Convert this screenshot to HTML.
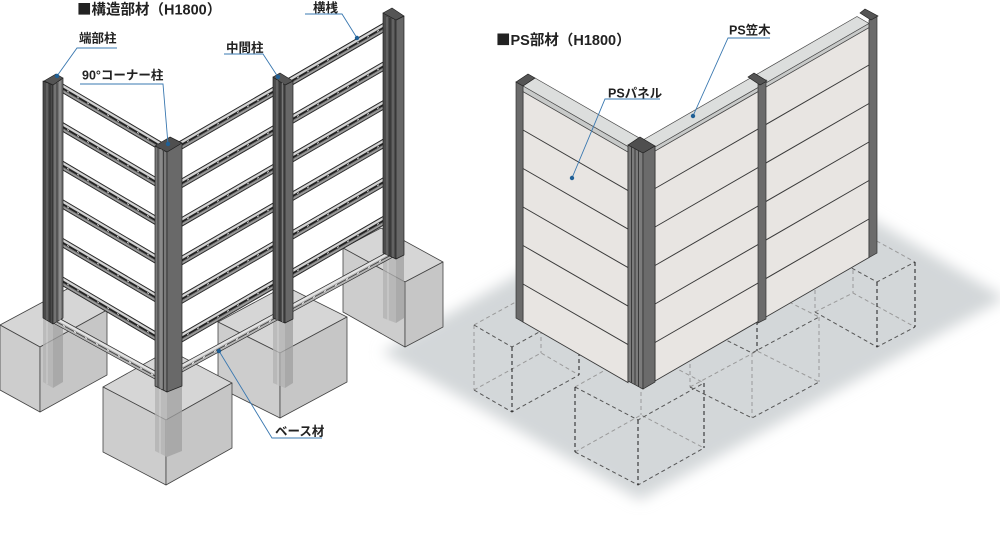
<!DOCTYPE html>
<html><head><meta charset="utf-8">
<style>
html,body{margin:0;padding:0;background:#fff;}
svg{display:block;}
text{font-family:"Liberation Sans","Noto Sans CJK JP",sans-serif;font-weight:bold;fill:#222;}
.sq{font-family:"Noto Sans CJK JP",sans-serif;}
</style></head><body>
<svg width="1000" height="547" viewBox="0 0 1000 547" xmlns="http://www.w3.org/2000/svg">
<defs>
<filter id="blur" x="-20%" y="-20%" width="140%" height="140%"><feGaussianBlur stdDeviation="7"/></filter>
<g id="rL">
 <rect x="0" y="0" width="110" height="9" fill="#7e7e7e" stroke="#1e1e1e" stroke-width="0.9"/>
 <rect x="0" y="0.9" width="110" height="2.3" fill="#d6d6d6"/>
 <line x1="0" y1="4.6" x2="110" y2="4.6" stroke="#222" stroke-width="2"/>
 <line x1="2" y1="4.6" x2="110" y2="4.6" stroke="#d8d8d8" stroke-width="0.9" stroke-dasharray="2 8"/>
 <line x1="0" y1="7.3" x2="110" y2="7.3" stroke="#b0b0b0" stroke-width="0.8"/>
</g>
<g id="rR">
 <rect x="0" y="0" width="215" height="9" fill="#7e7e7e" stroke="#1e1e1e" stroke-width="0.9"/>
 <rect x="0" y="0.9" width="215" height="2.3" fill="#d6d6d6"/>
 <line x1="0" y1="4.6" x2="215" y2="4.6" stroke="#222" stroke-width="2"/>
 <line x1="2" y1="4.6" x2="215" y2="4.6" stroke="#d8d8d8" stroke-width="0.9" stroke-dasharray="2 8"/>
 <line x1="0" y1="7.3" x2="215" y2="7.3" stroke="#b0b0b0" stroke-width="0.8"/>
</g>
</defs>
<rect width="1000" height="547" fill="#fff"/>

<!-- shadow right -->
<polygon points="382,352 600,228 865,215 1005,298 640,500" fill="#d3d7d9" filter="url(#blur)"/>

<!-- ============ LEFT STRUCTURE ============ -->
<g stroke="#444" stroke-width="0.8" stroke-linejoin="round">
 <polygon points="343,248 381,228 443,262 405,282" fill="#d6d6d6"/>
 <polygon points="343,248 405,282 405,347 343,312" fill="#cdcdcd"/>
 <polygon points="405,282 443,262 443,327 405,347" fill="#c6c6c6"/>
 <polygon points="218,322 285,286 347,317 280,353" fill="#d6d6d6"/>
 <polygon points="218,322 280,353 280,418 218,387" fill="#cdcdcd"/>
 <polygon points="280,353 347,317 347,382 280,418" fill="#c6c6c6"/>
 <polygon points="0,325 69,288 107,310 40,347" fill="#d6d6d6"/>
 <polygon points="0,325 40,347 40,412 0,390" fill="#cdcdcd"/>
 <polygon points="40,347 107,310 107,375 40,412" fill="#c6c6c6"/>
 <polygon points="103,387 169,350 232,383 166,420" fill="#d6d6d6"/>
 <polygon points="103,387 166,420 166,485 103,452" fill="#cdcdcd"/>
 <polygon points="166,420 232,383 232,448 166,485" fill="#c6c6c6"/>
</g>

<!-- embedded posts -->
<g opacity="0.75">
 <polygon points="383,253 396,259 396,323 383,318" fill="#b2b2b2"/>
 <polygon points="396,259 404,255 404,318 396,323" fill="#a0a0a0"/>
 <line x1="388" y1="256" x2="388" y2="320" stroke="#c8c8c8" stroke-width="1.5"/>
 <polygon points="273,318 285,323 285,388 273,383" fill="#b2b2b2"/>
 <polygon points="285,323 293,319 293,383 285,388" fill="#a0a0a0"/>
 <line x1="278" y1="320" x2="278" y2="385" stroke="#c8c8c8" stroke-width="1.5"/>
 <polygon points="43,318 53,324 53,388 43,382" fill="#b2b2b2"/>
 <polygon points="53,324 63,318 63,382 53,388" fill="#a0a0a0"/>
 <line x1="47" y1="320" x2="47" y2="384" stroke="#c8c8c8" stroke-width="1.5"/>
 <polygon points="155,386 167,392 167,457 155,451" fill="#b2b2b2"/>
 <polygon points="167,392 182,386 182,451 167,457" fill="#a0a0a0"/>
 <line x1="160" y1="389" x2="160" y2="454" stroke="#c8c8c8" stroke-width="1.5"/>
</g>

<!-- base rails -->
<g transform="matrix(1,0.55,0,1,0,-30.25)">
 <rect x="50" y="316" width="112" height="8" fill="#b5b5b5" stroke="#2a2a2a" stroke-width="0.8"/>
 <rect x="50" y="316.8" width="112" height="2.4" fill="#e4e4e4"/>
 <line x1="50" y1="321" x2="162" y2="321" stroke="#444" stroke-width="1.1"/>
 <line x1="52" y1="321" x2="162" y2="321" stroke="#fff" stroke-width="0.8" stroke-dasharray="2 9"/>
</g>
<g transform="matrix(1,-0.545,0,1,0,99.19)">
 <rect x="168" y="364" width="228" height="8" fill="#b5b5b5" stroke="#2a2a2a" stroke-width="0.8"/>
 <rect x="168" y="364.8" width="228" height="2.4" fill="#e4e4e4"/>
 <line x1="168" y1="369" x2="396" y2="369" stroke="#444" stroke-width="1.1"/>
 <line x1="170" y1="369" x2="396" y2="369" stroke="#fff" stroke-width="0.8" stroke-dasharray="2 9"/>
</g>

<!-- rails left wall -->
<g transform="matrix(1,0.59,0,1,0,-37.17)">
 <use href="#rL" x="55" y="84"/>
 <use href="#rL" x="55" y="122.6"/>
 <use href="#rL" x="55" y="161.2"/>
 <use href="#rL" x="55" y="199.8"/>
 <use href="#rL" x="55" y="238.4"/>
 <use href="#rL" x="55" y="277"/>
</g>
<!-- rails right wall -->
<g transform="matrix(1,-0.58,0,1,0,105.56)">
 <use href="#rR" x="175" y="140"/>
 <use href="#rR" x="175" y="178.6"/>
 <use href="#rR" x="175" y="217.2"/>
 <use href="#rR" x="175" y="255.8"/>
 <use href="#rR" x="175" y="294.4"/>
 <use href="#rR" x="175" y="333"/>
</g>

<!-- posts left structure -->
<g stroke="#222" stroke-width="0.7" stroke-linejoin="round">
 <polygon points="383,13 396,20 396,259 383,253" fill="#4c4c4c"/>
 <polygon points="396,20 404,16 404,255 396,259" fill="#676767"/>
 <polygon points="383,13 392,8 404,16 396,20" fill="#555"/>
 <polygon points="273,77 285,85 285,323 273,318" fill="#4c4c4c"/>
 <polygon points="285,85 293,81 293,319 285,323" fill="#676767"/>
 <polygon points="273,77 280,73 293,81 285,85" fill="#555"/>
 <polygon points="43,81 53,85 53,324 43,318" fill="#4a4a4a"/>
 <polygon points="53,85 63,78 63,318 53,324" fill="#737373"/>
 <polygon points="44,81 56,74 63,78 53,85" fill="#555"/>
 <polygon points="155,146 167,152 167,392 155,386" fill="#7a7a7a"/>
 <polygon points="167,152 182,143 182,386 167,392" fill="#696969"/>
 <polygon points="155,146 170,137 182,143 167,152" fill="#4f4f4f"/>
</g>
<g stroke-width="1">
 <line x1="387" y1="17" x2="387" y2="255" stroke="#7a7a7a"/>
 <line x1="390" y1="18" x2="390" y2="256" stroke="#2a2a2a"/>
 <line x1="393" y1="19" x2="393" y2="257" stroke="#777"/>
 <line x1="277" y1="80" x2="277" y2="320" stroke="#7a7a7a"/>
 <line x1="280" y1="82" x2="280" y2="321" stroke="#2a2a2a"/>
 <line x1="282.5" y1="83" x2="282.5" y2="322" stroke="#777"/>
 <line x1="47" y1="83" x2="47" y2="320" stroke="#777"/>
 <line x1="50" y1="84" x2="50" y2="322" stroke="#2a2a2a"/>
 <line x1="57" y1="83" x2="57" y2="322" stroke="#3a3a3a"/>
 <line x1="60" y1="81" x2="60" y2="320" stroke="#a5a5a5"/>
 <line x1="158" y1="147" x2="158" y2="388" stroke="#3e3e3e"/>
 <line x1="161" y1="149" x2="161" y2="389" stroke="#9a9a9a"/>
 <line x1="163.5" y1="150" x2="163.5" y2="390" stroke="#3e3e3e"/>
</g>

<!-- ============ RIGHT STRUCTURE ============ -->
<g fill="none" stroke-width="1" stroke-dasharray="4 3">
 <path d="M474,325 L541,288 L579,310 M474,390 L541,353 L579,375 M541,288 L541,353 M474,325 L474,390" stroke="#9a9a9a"/>
 <path d="M474,325 L512,347 L579,310 M474,390 L512,412 L579,375" stroke="#555"/>
 <path d="M512,347 L512,412 M579,310 L579,375" stroke="#1e1e1e"/>
 <path d="M575,387 L641,350 L704,383 M575,452 L641,415 L704,448 M641,350 L641,415" stroke="#9a9a9a"/>
 <path d="M575,387 L638,420 L704,383 M575,452 L638,485 L704,448" stroke="#555"/>
 <path d="M575,387 L575,452 M638,420 L638,485 M704,383 L704,448" stroke="#1e1e1e"/>
 <path d="M690,322 L757,286 L819,317 M690,387 L757,351 L819,382 M690,322 L690,387" stroke="#9a9a9a"/>
 <path d="M690,322 L752,353 L819,317 M690,387 L752,418 L819,382" stroke="#555"/>
 <path d="M757,286 L757,351" stroke="#1e1e1e"/>
 <path d="M752,353 L752,418 M819,317 L819,382" stroke="#9a9a9a"/>
 <path d="M815,248 L853,228 L915,262 M815,312 L853,293 L915,327 M853,228 L853,293 M815,248 L815,312" stroke="#9a9a9a"/>
 <path d="M815,248 L877,282 L915,262 M815,312 L877,347 L915,327" stroke="#555"/>
 <path d="M877,282 L877,347 M915,262 L915,327" stroke="#1e1e1e"/>
</g>

<!-- left wall panel -->
<polygon points="523,91.5 628,152 628,382.6 523,322" fill="#e8e5e2" stroke="#3a3a3a" stroke-width="0.9"/>
<g stroke="#3a3a3a" stroke-width="1">
 <line x1="523" y1="130" x2="628" y2="190.6"/>
 <line x1="523" y1="168.5" x2="628" y2="229.1"/>
 <line x1="523" y1="207" x2="628" y2="267.6"/>
 <line x1="523" y1="245.5" x2="628" y2="306.1"/>
 <line x1="523" y1="284" x2="628" y2="344.6"/>
</g>
<polygon points="523,86 535,78 641,139 628,146.6" fill="#dcdedd" stroke="#4a4a4a" stroke-width="0.7"/>
<polygon points="523,86 628,146.6 628,152 523,91.5" fill="#c8cac9" stroke="#4a4a4a" stroke-width="0.7"/>
<polygon points="516,82 523,86 523,322 516,318" fill="#6b6b6b" stroke="#333" stroke-width="0.7"/>
<polygon points="516,82 528,74 535,78 523,86" fill="#555" stroke="#222" stroke-width="0.7"/>

<!-- right wall panel -->
<polygon points="655,151 869,27.5 869,257.5 655,381" fill="#e8e5e2" stroke="#3a3a3a" stroke-width="0.9"/>
<g stroke="#3a3a3a" stroke-width="1">
 <line x1="655" y1="188.5" x2="869" y2="65"/>
 <line x1="655" y1="227" x2="869" y2="103.5"/>
 <line x1="655" y1="265.5" x2="869" y2="142"/>
 <line x1="655" y1="304" x2="869" y2="180.5"/>
 <line x1="655" y1="342.5" x2="869" y2="219"/>
</g>
<polygon points="643,140 857,16.5 869,23.5 655,147" fill="#dcdedd" stroke="#4a4a4a" stroke-width="0.7"/>
<polygon points="655,147 869,23.5 869,27.5 655,151" fill="#c8cac9" stroke="#4a4a4a" stroke-width="0.7"/>
<polygon points="758,84 766,80 766,319 758,323" fill="#6b6b6b" stroke="#333" stroke-width="0.7"/>
<polygon points="748,77 754,73 767,81 760,85" fill="#555" stroke="#222" stroke-width="0.7"/>
<polygon points="869,20 877,16 877,253 869,257.5" fill="#6b6b6b" stroke="#333" stroke-width="0.7"/>
<polygon points="860,13 865,9 878,16 871,20" fill="#555" stroke="#222" stroke-width="0.7"/>
<polygon points="628,145 643,153 643,389 628,381" fill="#7b7b7b" stroke="#2a2a2a" stroke-width="0.7"/>
<polygon points="643,153 655,146 655,382 643,389" fill="#6b6b6b" stroke="#2a2a2a" stroke-width="0.7"/>
<polygon points="628,145 640,137 655,146 643,153" fill="#4f4f4f" stroke="#222" stroke-width="0.7"/>
<g stroke="#3a3a3a" stroke-width="1">
 <line x1="631.5" y1="147" x2="631.5" y2="383"/>
 <line x1="635" y1="149" x2="635" y2="385"/>
 <line x1="638.5" y1="151" x2="638.5" y2="387"/>
</g>

<!-- ============ LABELS ============ -->
<g fill="none" stroke="#3a78b0" stroke-width="0.9">
 <polyline points="305,14 342,14 357,38"/>
 <polyline points="117,48 77,48 57,76"/>
 <polyline points="80,84 163,84 168,144"/>
 <polyline points="224,54 263,54 278,77"/>
 <polyline points="322,438 272,438 219,351"/>
 <polyline points="770,38 728,38 693,116"/>
 <polyline points="660,99 605,99 572,178"/>
</g>
<g fill="#1f5f95">
 <circle cx="357" cy="38" r="2.2"/>
 <circle cx="57" cy="76" r="2.2"/>
 <circle cx="168" cy="144" r="2.2"/>
 <circle cx="278" cy="77" r="2.2"/>
 <circle cx="219" cy="351" r="2.2"/>
 <circle cx="693" cy="116" r="2.2"/>
 <circle cx="572" cy="178" r="2.2"/>
</g>

<text x="77" y="14.5" font-size="14.5"><tspan class="sq">■</tspan>構造部材（H1800）</text>
<text x="496" y="45" font-size="14.5"><tspan class="sq">■</tspan>PS部材（H1800）</text>
<text x="313" y="12" font-size="12.5">横桟</text>
<text x="79" y="42.5" font-size="12.5">端部柱</text>
<text x="82" y="79.5" font-size="12.5">90°コーナー柱</text>
<text x="226" y="52" font-size="12.5">中間柱</text>
<text x="275" y="435.5" font-size="12.5">ベース材</text>
<text x="729" y="34.5" font-size="12.5">PS笠木</text>
<text x="608" y="97.5" font-size="12.5">PSパネル</text>
</svg>
</body></html>
